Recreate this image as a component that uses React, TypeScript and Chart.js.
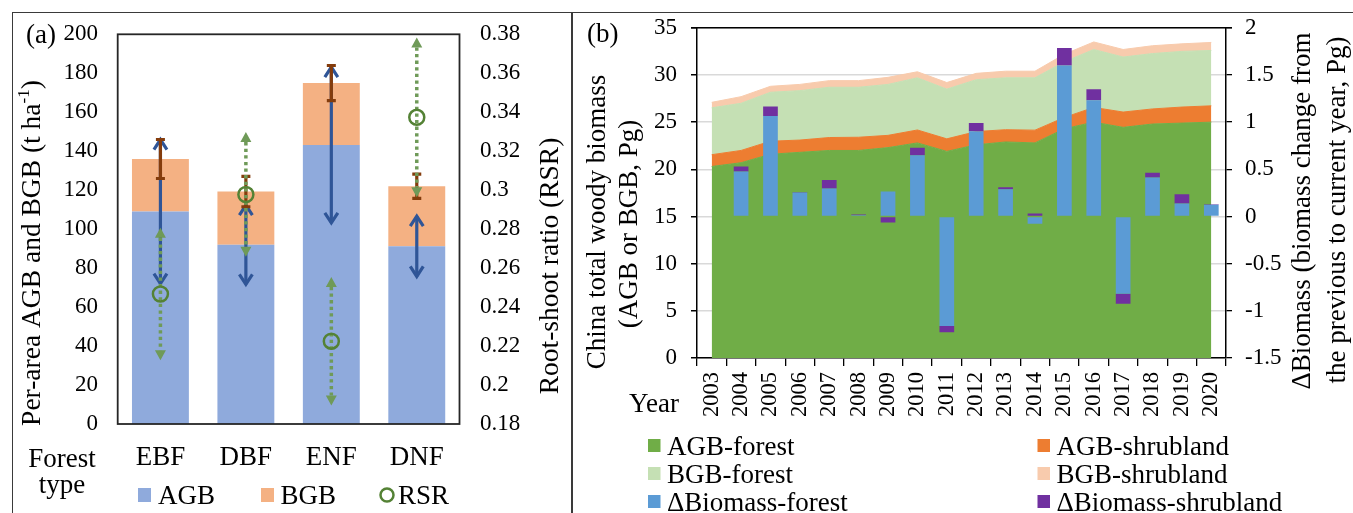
import React, { useEffect, useRef } from 'react';
import { Chart, registerables } from 'chart.js';

Chart.register(...registerables);

const SERIF = "'Liberation Serif', 'Times New Roman', Times, serif";

// ---------- Panel (a): per-area biomass by forest type ----------
const forestTypes = ['EBF', 'DBF', 'ENF', 'DNF'];
const agbPerArea = [109, 92, 143.2, 91.2];
const bgbPerArea = [27, 27.3, 31.8, 30.8];
const agbErr = [37.5, 20.8, 40.5, 16];
const totalErr = [10, 7.8, 9, 6.2];
const rsrValues = [0.2467, 0.2978, 0.2225, 0.3374];
const rsrErr = [0.034, 0.032, 0.033, 0.041];
const aLeftMin = 0, aLeftMax = 200, aLeftStep = 20;
const aRightMin = 0.18, aRightMax = 0.38, aRightStep = 0.02;

// ---------- Panel (b): China total woody biomass ----------
const years = ['2003', '2004', '2005', '2006', '2007', '2008', '2009', '2010', '2011', '2012', '2013', '2014', '2015', '2016', '2017', '2018', '2019', '2020'];
const agbForest = [20.3, 20.7, 21.6, 21.8, 22.0, 22.0, 22.3, 22.8, 21.9, 22.6, 22.9, 22.8, 24.3, 25.0, 24.45, 24.8, 24.9, 25.0];
const agbShrubland = [1.25, 1.3, 1.38, 1.3, 1.37, 1.4, 1.3, 1.37, 1.33, 1.4, 1.3, 1.35, 1.2, 1.56, 1.62, 1.6, 1.7, 1.73];
const bgbForest = [4.97, 5.0, 5.19, 5.24, 5.33, 5.3, 5.4, 5.53, 5.27, 5.5, 5.5, 5.55, 5.9, 6.14, 5.83, 5.87, 5.9, 5.87];
const bgbShrubland = [0.58, 0.7, 0.63, 0.66, 0.7, 0.7, 0.75, 0.64, 0.7, 0.67, 0.7, 0.7, 0.8, 0.8, 0.8, 0.83, 0.8, 0.85];
const deltaForest = [null, 0.476, 1.065, 0.255, 0.297, 0.012, 0.266, 0.648, -1.16, 0.904, 0.289, -0.077, 1.6, 1.233, -0.82, 0.413, 0.137, 0.125];
const deltaShrubland = [null, 0.053, 0.1, 0.005, 0.09, 0.01, -0.063, 0.08, -0.067, 0.087, 0.02, 0.032, 0.185, 0.115, -0.105, 0.05, 0.098, 0.004];
const bLeftMin = 0, bLeftMax = 35, bLeftStep = 5;
const bRightMin = -1.5, bRightMax = 2, bRightStep = 0.5;

const fmt = (v: number) => String(Math.round(Number(v) * 100) / 100);

function text(ctx: CanvasRenderingContext2D, s: string, x: number, y: number, size: number, align: CanvasTextAlign = 'left', baseline: CanvasTextBaseline = 'alphabetic') {
  ctx.save();
  ctx.font = `${size}px ${SERIF}`;
  ctx.fillStyle = '#000';
  ctx.textAlign = align;
  ctx.textBaseline = baseline;
  ctx.fillText(s, x, y);
  ctx.restore();
}

type Part = { s: string; size: number; dy: number };
function vRich(ctx: CanvasRenderingContext2D, parts: Part[], cx: number, cy: number) {
  ctx.save();
  ctx.translate(cx, cy);
  ctx.rotate(-Math.PI / 2);
  ctx.fillStyle = '#000';
  ctx.textBaseline = 'middle';
  ctx.textAlign = 'left';
  const widths = parts.map((p) => {
    ctx.font = `${p.size}px ${SERIF}`;
    return ctx.measureText(p.s).width;
  });
  const total = widths.reduce((a, b) => a + b, 0);
  let x = -total / 2;
  parts.forEach((p, i) => {
    ctx.font = `${p.size}px ${SERIF}`;
    ctx.fillText(p.s, x, p.dy);
    x += widths[i];
  });
  ctx.restore();
}

function vText(ctx: CanvasRenderingContext2D, s: string, cx: number, cy: number, size: number) {
  vRich(ctx, [{ s, size, dy: 0 }], cx, cy);
}

const decorA = {
  id: 'decorA',
  beforeDatasetDraw(chart: any, args: any) {
    if (args.index !== 2) return;
    const ctx: CanvasRenderingContext2D = chart.ctx;
    const xs = chart.scales.x, ys = chart.scales.y, yr = chart.scales.y1;
    ctx.save();
    forestTypes.forEach((_, i) => {
      const x = xs.getPixelForValue(i);
      // AGB error: blue double arrow
      const t = ys.getPixelForValue(agbPerArea[i] + agbErr[i]);
      const b = ys.getPixelForValue(agbPerArea[i] - agbErr[i]);
      ctx.strokeStyle = '#2f5597';
      ctx.lineWidth = 3.2;
      ctx.lineCap = 'butt';
      ctx.lineJoin = 'miter';
      ctx.beginPath();
      ctx.moveTo(x, t + 1); ctx.lineTo(x, b - 1);
      ctx.stroke();
      ctx.beginPath();
      ctx.moveTo(x - 6.5, t + 11); ctx.lineTo(x, t + 1); ctx.lineTo(x + 6.5, t + 11);
      ctx.moveTo(x - 6.5, b - 11); ctx.lineTo(x, b - 1); ctx.lineTo(x + 6.5, b - 11);
      ctx.stroke();
      // Total (AGB+BGB) error: brown capped bar
      const tot = agbPerArea[i] + bgbPerArea[i];
      const tt = ys.getPixelForValue(tot + totalErr[i]);
      const tb = ys.getPixelForValue(tot - totalErr[i]);
      ctx.strokeStyle = '#843c0c';
      ctx.lineWidth = 3.2;
      ctx.beginPath();
      ctx.moveTo(x, tt); ctx.lineTo(x, tb);
      ctx.moveTo(x - 4.5, tt); ctx.lineTo(x + 4.5, tt);
      ctx.moveTo(x - 4.5, tb); ctx.lineTo(x + 4.5, tb);
      ctx.stroke();
      // RSR error: green dotted with triangles
      const rt = yr.getPixelForValue(rsrValues[i] + rsrErr[i]);
      const rb = yr.getPixelForValue(rsrValues[i] - rsrErr[i]);
      ctx.strokeStyle = '#6f9a58';
      ctx.fillStyle = '#6f9a58';
      ctx.lineWidth = 3.5;
      ctx.setLineDash([3.3, 3.3]);
      ctx.beginPath();
      ctx.moveTo(x, rt + 10); ctx.lineTo(x, rb - 10);
      ctx.stroke();
      ctx.setLineDash([]);
      ctx.beginPath();
      ctx.moveTo(x, rt); ctx.lineTo(x - 5.5, rt + 10); ctx.lineTo(x + 5.5, rt + 10); ctx.closePath();
      ctx.moveTo(x, rb); ctx.lineTo(x - 5.5, rb - 10); ctx.lineTo(x + 5.5, rb - 10); ctx.closePath();
      ctx.fill();
    });
    ctx.restore();
  },
  afterDraw(chart: any) {
    const ctx: CanvasRenderingContext2D = chart.ctx;
    const a = chart.chartArea;
    ctx.save();
    ctx.strokeStyle = '#262626';
    ctx.lineWidth = 1.8;
    ctx.strokeRect(a.left, a.top, a.right - a.left, a.bottom - a.top);
    ctx.restore();
    text(ctx, '(a)', 26, 43, 27);
    vRich(ctx, [
      { s: 'Per-area AGB and BGB (t ha', size: 27.5, dy: 0 },
      { s: '-1', size: 17, dy: -8 },
      { s: ')', size: 27.5, dy: 0 },
    ], 33, 253);
    vText(ctx, 'Root-shoot ratio (RSR)', 551, 266, 27.5);
    text(ctx, 'Forest', 62, 467, 27, 'center');
    text(ctx, 'type', 62, 493, 27, 'center');
    // legend
    ctx.save();
    ctx.fillStyle = '#8faadc';
    ctx.fillRect(138, 488, 13, 14);
    ctx.fillStyle = '#f4b183';
    ctx.fillRect(261, 488, 13, 14);
    ctx.strokeStyle = '#548235';
    ctx.lineWidth = 2.5;
    ctx.beginPath();
    ctx.arc(387, 495, 6.5, 0, Math.PI * 2);
    ctx.stroke();
    ctx.restore();
    text(ctx, 'AGB', 158, 504, 27);
    text(ctx, 'BGB', 280.5, 504, 27);
    text(ctx, 'RSR', 398, 504, 27);
  },
};

const legendB = [
  { label: 'AGB-forest', color: '#70ad47' },
  { label: 'AGB-shrubland', color: '#ed7d31' },
  { label: 'BGB-forest', color: '#c5e0b4' },
  { label: 'BGB-shrubland', color: '#f8cbad' },
  { label: '\u0394Biomass-forest', color: '#5b9bd5' },
  { label: '\u0394Biomass-shrubland', color: '#7030a0' },
];

const decorB = {
  id: 'decorB',
  afterDraw(chart: any) {
    const ctx: CanvasRenderingContext2D = chart.ctx;
    const a = chart.chartArea;
    ctx.save();
    ctx.strokeStyle = '#000';
    ctx.lineWidth = 1.5;
    ctx.beginPath();
    ctx.moveTo(a.left - 6, a.top);
    ctx.lineTo(a.right + 6, a.top);
    ctx.stroke();
    ctx.restore();
    text(ctx, '(b)', 15, 42, 27);
    text(ctx, 'Year', 82, 412, 27, 'center');
    vText(ctx, 'China total woody biomass', 26, 222, 27);
    vText(ctx, '(AGB or BGB, Pg)', 58, 224, 27);
    vText(ctx, '\u0394Biomass (biomass change from', 731, 211, 27);
    vText(ctx, 'the previous to current year, Pg)', 766, 210, 27);
    const cols = [76, 465.5];
    const baselines = [455, 483, 511];
    legendB.forEach((it, i) => {
      const col = cols[i % 2];
      const bl = baselines[Math.floor(i / 2)];
      ctx.save();
      ctx.fillStyle = it.color;
      ctx.fillRect(col, bl - 16, 12.5, 13);
      ctx.restore();
      text(ctx, it.label, col + 19, bl, 27);
    });
  },
};

export default function App() {
  const refA = useRef<HTMLCanvasElement | null>(null);
  const refB = useRef<HTMLCanvasElement | null>(null);

  useEffect(() => {
    document.body.style.margin = '0';
    const tickFont = { family: SERIF, size: 23 };

    const chartA = new Chart(refA.current as HTMLCanvasElement, {
      type: 'bar',
      data: {
        labels: forestTypes,
        datasets: [
          { label: 'AGB', data: agbPerArea, backgroundColor: '#8faadc', yAxisID: 'y', stack: 'a', barPercentage: 0.666, categoryPercentage: 1 },
          { label: 'BGB', data: bgbPerArea, backgroundColor: '#f4b183', yAxisID: 'y', stack: 'a', barPercentage: 0.666, categoryPercentage: 1 },
          {
            type: 'line', label: 'RSR', data: rsrValues, yAxisID: 'y1', showLine: false,
            pointRadius: 7.5, pointHoverRadius: 7.5, pointBorderWidth: 2.5,
            pointBorderColor: '#548235', pointBackgroundColor: 'rgba(255,255,255,0)',
            borderColor: '#548235', backgroundColor: 'rgba(255,255,255,0)', order: -1,
          } as any,
        ],
      },
      options: {
        responsive: false,
        maintainAspectRatio: false,
        animation: false,
        devicePixelRatio: 1,
        layout: { padding: { top: 25.5, left: 0, right: 0, bottom: 0 } },
        plugins: { legend: { display: false }, tooltip: { enabled: false } },
        scales: {
          x: {
            stacked: true,
            grid: { display: false, drawTicks: false },
            border: { display: false },
            ticks: { font: { family: SERIF, size: 27 }, color: '#000', padding: 18, maxRotation: 0, minRotation: 0 },
            afterFit: (s: any) => { s.height = 89; },
          },
          y: {
            stacked: true,
            position: 'left',
            min: aLeftMin, max: aLeftMax,
            ticks: { stepSize: aLeftStep, font: tickFont, color: '#000', padding: 19.7, callback: (v: any) => fmt(v) },
            grid: { display: false, drawTicks: false },
            border: { display: false },
            afterFit: (s: any) => { s.width = 117.7; },
          },
          y1: {
            position: 'right',
            min: aRightMin, max: aRightMax,
            ticks: { stepSize: aRightStep, font: tickFont, color: '#000', padding: 20.5, callback: (v: any) => fmt(v) },
            grid: { display: false, drawTicks: false },
            border: { display: false },
            afterFit: (s: any) => { s.width = 112.5; },
          },
        } as any,
      },
      plugins: [decorA],
    });

    const lineBase = { type: 'line', yAxisID: 'y', pointRadius: 0, pointHoverRadius: 0, borderWidth: 1, tension: 0, order: 1 };
    const barBase = { type: 'bar', yAxisID: 'y1', stack: 'delta', barPercentage: 0.5, categoryPercentage: 1 };

    const chartB = new Chart(refB.current as HTMLCanvasElement, {
      type: 'bar',
      data: {
        labels: years,
        datasets: [
          { ...lineBase, label: 'AGB-forest', data: agbForest, backgroundColor: '#70ad47', borderColor: '#70ad47', fill: 'origin' } as any,
          { ...lineBase, label: 'AGB-shrubland', data: agbShrubland, backgroundColor: '#ed7d31', borderColor: '#ed7d31', fill: '-1' } as any,
          { ...lineBase, label: 'BGB-forest', data: bgbForest, backgroundColor: '#c5e0b4', borderColor: '#c5e0b4', fill: '-1' } as any,
          { ...lineBase, label: 'BGB-shrubland', data: bgbShrubland, backgroundColor: '#f8cbad', borderColor: '#f8cbad', fill: '-1' } as any,
          { ...barBase, label: '\u0394Biomass-forest', data: deltaForest, backgroundColor: '#5b9bd5', order: -2 } as any,
          { ...barBase, label: '\u0394Biomass-shrubland', data: deltaShrubland, backgroundColor: '#7030a0', order: -1 } as any,
        ],
      },
      options: {
        responsive: false,
        maintainAspectRatio: false,
        animation: false,
        devicePixelRatio: 1,
        layout: { padding: { top: 25, left: 0, right: 0, bottom: 0 } },
        plugins: { legend: { display: false }, tooltip: { enabled: false } },
        scales: {
          x: {
            stacked: true,
            offset: true,
            grid: { display: true, drawOnChartArea: false, drawTicks: true, tickLength: 8, color: '#000', lineWidth: 1.3, offset: true },
            border: { display: true, color: '#000', width: 1.5 },
            ticks: { font: { family: SERIF, size: 22.5 }, color: '#000', padding: 6, maxRotation: 90, minRotation: 90, autoSkip: false },
            afterFit: (s: any) => { s.height = 155; },
          },
          y: {
            stacked: true,
            position: 'left',
            min: bLeftMin, max: bLeftMax,
            ticks: { stepSize: bLeftStep, font: tickFont, color: '#000', padding: 14, callback: (v: any) => fmt(v) },
            grid: { color: '#d9d9d9', lineWidth: 1.5, tickColor: '#000', tickLength: 6, drawTicks: true },
            border: { display: true, color: '#000', width: 1.5 },
            afterFit: (s: any) => { s.width = 125; },
          },
          y1: {
            stacked: true,
            position: 'right',
            min: bRightMin, max: bRightMax,
            ticks: { stepSize: bRightStep, font: tickFont, color: '#000', padding: 13, callback: (v: any) => fmt(v) },
            grid: { drawOnChartArea: false, color: '#000', tickColor: '#000', tickLength: 6, lineWidth: 1.3 },
            border: { display: true, color: '#000', width: 1.5 },
            afterFit: (s: any) => { s.width = 127; },
          },
        } as any,
      },
      plugins: [decorB],
    });

    return () => {
      chartA.destroy();
      chartB.destroy();
    };
  }, []);

  return (
    <div style={{ position: 'relative', width: 1353, height: 513, overflow: 'hidden', background: '#fff' }}>
      <canvas ref={refA} width={572} height={513} style={{ position: 'absolute', left: 0, top: 0, width: 572, height: 513 }} />
      <canvas ref={refB} width={781} height={513} style={{ position: 'absolute', left: 572, top: 0, width: 781, height: 513 }} />
      <div style={{ position: 'absolute', left: 12, top: 12, width: 1341, height: 501, borderTop: '1.5px solid #3a3a3a', borderLeft: '1.5px solid #3a3a3a', boxSizing: 'border-box' }} />
      <div style={{ position: 'absolute', left: 571, top: 12, width: 1.5, height: 501, background: '#3a3a3a' }} />
    </div>
  );
}
